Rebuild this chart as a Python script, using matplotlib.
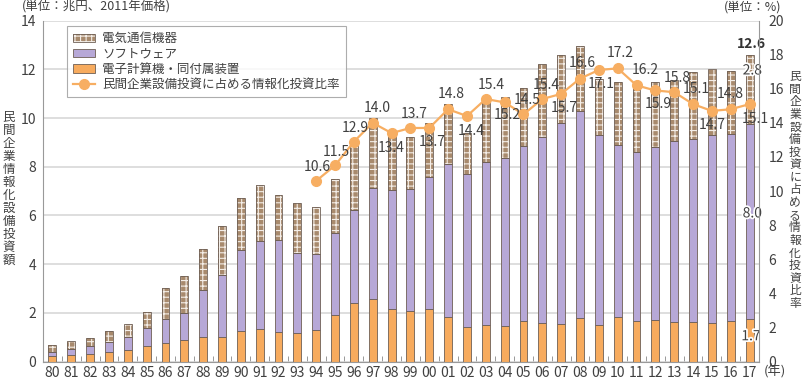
"""
Stacked bars of private IT investment with the IT share line on a twin axis.
"""

import numpy as np
import matplotlib.pyplot as plt
import matplotlib.patheffects as pe
from matplotlib.patches import Patch
from matplotlib.lines import Line2D

plt.rcParams['font.family'] = ['Noto Sans CJK JP', 'DejaVu Sans']
plt.rcParams['hatch.color'] = '#f4eee8'
plt.rcParams['hatch.linewidth'] = 0.8

# data (trillion yen, 2011 prices)
years = ['80', '81', '82', '83', '84', '85', '86', '87', '88', '89',
         '90', '91', '92', '93', '94', '95', '96', '97', '98', '99',
         '00', '01', '02', '03', '04', '05', '06', '07', '08', '09',
         '10', '11', '12', '13', '14', '15', '16', '17']
computer = [0.22, 0.26, 0.30, 0.37, 0.46, 0.64, 0.75, 0.87, 1.02, 1.02,
            1.27, 1.33, 1.20, 1.17, 1.28, 1.90, 2.39, 2.55, 2.14, 2.08,
            2.14, 1.84, 1.42, 1.50, 1.46, 1.68, 1.57, 1.52, 1.79, 1.49,
            1.82, 1.67, 1.71, 1.63, 1.61, 1.58, 1.67, 1.73]
software = [0.16, 0.25, 0.33, 0.42, 0.56, 0.73, 0.98, 1.14, 1.90, 2.55,
            3.29, 3.63, 3.77, 3.30, 3.15, 3.37, 3.85, 4.58, 4.91, 5.00,
            5.44, 6.29, 6.27, 6.71, 6.91, 7.19, 7.66, 8.29, 8.48, 7.83,
            7.09, 6.92, 7.10, 7.43, 7.54, 7.71, 7.69, 8.02]
telecom = [0.29, 0.34, 0.35, 0.45, 0.54, 0.68, 1.28, 1.50, 1.72, 1.98,
           2.16, 2.28, 1.87, 2.05, 1.92, 2.22, 2.64, 2.88, 2.35, 2.13,
           2.23, 2.44, 1.71, 2.66, 2.50, 2.37, 2.97, 2.78, 2.69, 2.28,
           2.58, 2.81, 2.66, 2.50, 2.75, 2.72, 2.57, 2.83]
# share of IT investment in private capital investment (%), from 1994
ratio_years = years[14:]
ratio = [10.6, 11.5, 12.9, 14.0, 13.4, 13.7, 13.7, 14.8, 14.4, 15.4,
         15.2, 14.5, 15.4, 15.7, 16.6, 17.1, 17.2, 16.2, 15.9, 15.8,
         15.1, 14.7, 14.8, 15.1]
# label offsets (points): above or below each marker
ratio_off = [10, 10, 10, 11, -11, 10, -10, 11, -11, 10,
             -9, 10, 10, -10, 11, -10, 11, 11, -10, 10,
             11, -10, 11, -11]
ratio_dx = [1, 1, 1, 3, 0, 3, 2, 2, 3, 4,
            2, 3, 3, 2, 2, 2, 2, 6, 2, 2,
            2, 0, 0, 4]

c_orange = '#f7ab5e'
c_purple = '#b7a8d7'
c_brown = '#a88a6d'
c_edge = '#6e5f55'
c_line = '#f7ae62'
c_text = '#404040'

x = np.arange(len(years))
computer = np.array(computer)
software = np.array(software)
telecom = np.array(telecom)
w = 0.42

fig = plt.figure(figsize=(8.04, 3.79), dpi=100)
ax = fig.add_axes([43/804, 1-361.5/379, 716/804, 340.9/379])

ax.bar(x, computer, w, color=c_orange, edgecolor=c_edge, linewidth=0.6, zorder=2)
ax.bar(x, software, w, bottom=computer, color=c_purple, edgecolor=c_edge,
       linewidth=0.6, zorder=2)
ax.bar(x, telecom, w, bottom=computer+software, color=c_brown, hatch='+++',
       linewidth=0, zorder=2)
ax.bar(x, telecom, w, bottom=computer+software, fill=False, edgecolor=c_edge,
       linewidth=0.6, zorder=3)

ax.set_xlim(-0.5, len(years)-0.5)
ax.set_ylim(0, 14)
ax.set_yticks(np.arange(0, 15, 2))
ax.set_xticks(x)
ax.set_xticklabels(years)
ax.set_xticks(x[:-1]+0.5, minor=True)
ax.tick_params(axis='x', which='major', length=0, pad=3, labelsize=10,
               colors=c_text)
ax.tick_params(axis='x', which='minor', direction='in', length=4,
               color='#888888')
ax.tick_params(axis='y', length=0, pad=5, labelsize=10, colors=c_text)
ax.grid(axis='y', color='#d4d4d4', linewidth=1.1)
ax.set_axisbelow(True)
for s in ['top', 'right']:
    ax.spines[s].set_visible(False)
for s in ['left', 'bottom']:
    ax.spines[s].set_color('#999999')

ax2 = ax.twinx()
ax2.set_ylim(0, 20)
ax2.set_yticks(np.arange(0, 21, 2))
ax2.tick_params(axis='y', length=0, pad=7, labelsize=10, colors=c_text)
for s in ['top', 'left', 'bottom']:
    ax2.spines[s].set_visible(False)
ax2.spines['right'].set_color('#999999')

xr = x[14:]
ax2.plot(xr, ratio, color=c_line, linewidth=1.6, marker='o', markersize=7,
         zorder=5)
for xi, v, dy, dx in zip(xr, ratio, ratio_off, ratio_dx):
    ax2.annotate('%.1f' % v, (xi, v), xytext=(dx, dy), textcoords='offset points',
                 ha='center', va='center', fontsize=10, color=c_text, zorder=6)

# last-year values on the bar
halo = [pe.withStroke(linewidth=2.5, foreground='white')]
i = len(years)-1
tot = computer[i]+software[i]+telecom[i]
ax.annotate('%.1f' % tot, (i, tot), xytext=(1, 8), textcoords='offset points',
            ha='center', va='center', fontsize=10, fontweight='bold',
            color='#333333', zorder=7)
ax.annotate('%.1f' % telecom[i], (i, computer[i]+software[i]+telecom[i]),
            xytext=(2, -11), textcoords='offset points', ha='center', va='center',
            fontsize=10, color=c_text, path_effects=halo, zorder=7)
ax.annotate('%.1f' % software[i], (i, computer[i]+software[i]/2),
            xytext=(2, 6), textcoords='offset points', ha='center', va='center',
            fontsize=10, color=c_text, path_effects=halo, zorder=7)
ax.annotate('%.1f' % computer[i], (i, computer[i]/2),
            xytext=(1, 3), textcoords='offset points', ha='center', va='center',
            fontsize=10, color=c_text, path_effects=halo, zorder=7)

# legend
h_tel = (Patch(facecolor=c_brown, hatch='+++', linewidth=0),
         Patch(fill=False, edgecolor=c_edge, linewidth=0.6))
h_sw = Patch(facecolor=c_purple, edgecolor=c_edge, linewidth=0.6)
h_pc = Patch(facecolor=c_orange, edgecolor=c_edge, linewidth=0.6)
h_ln = Line2D([], [], color=c_line, linewidth=1.6, marker='o', markersize=7)
leg = ax2.legend([h_tel, h_sw, h_pc, h_ln],
                 ['電気通信機器', 'ソフトウェア', '電子計算機・同付属装置',
                  '民間企業設備投資に占める情報化投資比率'],
                 loc='upper left', bbox_to_anchor=(0.033, 0.984), fontsize=9,
                 frameon=True, fancybox=False, handlelength=1.75,
                 handleheight=0.65, handletextpad=0.6, labelspacing=0.18,
                 borderpad=0.5, borderaxespad=0)
leg.get_frame().set_edgecolor('#999999')
leg.get_frame().set_linewidth(0.8)
for t in leg.get_texts():
    t.set_color(c_text)

# units and axis titles
fig.text(22/804, 1-7/379, '(単位：兆円、2011年価格)', fontsize=9,
         color=c_text, ha='left', va='center')
fig.text(781/804, 1-7/379, '(単位：%)', fontsize=9, color=c_text,
         ha='right', va='center')
fig.text(764/804, 1-372/379, '(年)', fontsize=9.5, color=c_text,
         ha='left', va='center')
fig.text(9/804, 1-189/379, '\n'.join('民間企業情報化設備投資額'), fontsize=9,
         color=c_text, ha='center', va='center', linespacing=1.0)
fig.text(795/804, 1-190/379, '\n'.join('民間企業設備投資に占める情報化投資比率'),
         fontsize=8.5, color=c_text, ha='center', va='center', linespacing=0.96)

fig.savefig('out.png', dpi=100)
